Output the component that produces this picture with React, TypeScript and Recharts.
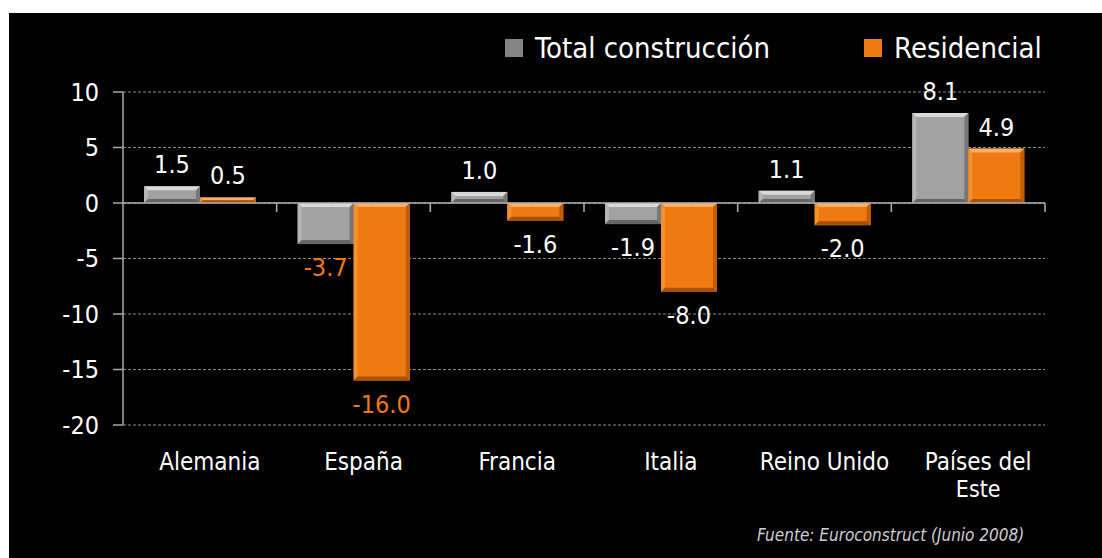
import {
  BarChart,
  Bar,
  XAxis,
  YAxis,
  CartesianGrid,
  ReferenceLine,
  Legend,
  LabelList,
} from "recharts";

const categories = [
  "Alemania",
  "España",
  "Francia",
  "Italia",
  "Reino Unido",
  "Países del Este",
];
const totalConstruccion = [1.5, -3.7, 1.0, -1.9, 1.1, 8.1];
const residencial = [0.5, -16.0, -1.6, -8.0, -2.0, 4.9];
const yTicks = [-20, -15, -10, -5, 0, 5, 10];
const seriesNames = ["Total construcción", "Residencial"];
const sourceNote = "Fuente: Euroconstruct (Junio 2008)";

const data = categories.map((name, i) => ({
  name,
  total: totalConstruccion[i],
  residencial: residencial[i],
}));

const FONT = "'DejaVu Sans Condensed', 'DejaVu Sans', sans-serif";
const ORANGE = "#ef7a12";
const GRAY = "#a2a2a2";
const highlighted = "España";

type Bevel = { base: string; top: string; left: string; right: string; bottom: string };

const grayBevel: Bevel = {
  base: GRAY,
  top: "#d9d9d9",
  left: "#b5b5b5",
  right: "#777777",
  bottom: "#666666",
};
const orangeBevel: Bevel = {
  base: ORANGE,
  top: "#f9b067",
  left: "#f4902f",
  right: "#c05e08",
  bottom: "#a55106",
};

const makeBevelBar = (c: Bevel) => (props: any) => {
  const { x, y, width, height } = props;
  if (x == null || y == null || !width || !height) return <g />;
  const top = Math.min(y, y + height);
  const h = Math.abs(height);
  const w = width;
  const b = Math.min(4, h / 2, w / 2);
  const pts = (arr: number[][]) => arr.map((p) => p.join(",")).join(" ");
  return (
    <g>
      <rect x={x} y={top} width={w} height={h} fill={c.base} />
      <polygon
        points={pts([[x, top], [x + w, top], [x + w - b, top + b], [x + b, top + b]])}
        fill={c.top}
      />
      <polygon
        points={pts([[x, top], [x + b, top + b], [x + b, top + h - b], [x, top + h]])}
        fill={c.left}
      />
      <polygon
        points={pts([[x + w, top], [x + w, top + h], [x + w - b, top + h - b], [x + w - b, top + b]])}
        fill={c.right}
      />
      <polygon
        points={pts([[x, top + h], [x + w, top + h], [x + w - b, top + h - b], [x + b, top + h - b]])}
        fill={c.bottom}
      />
    </g>
  );
};

const valueLabel = (props: any) => {
  const vb = props.viewBox ?? props;
  const x = vb.x ?? props.x;
  const y = vb.y ?? props.y;
  const width = vb.width ?? props.width;
  const height = vb.height ?? props.height;
  const value = Number(props.value);
  if (x == null || y == null) return null;
  const top = Math.min(y, y + height);
  const bottom = Math.max(y, y + height);
  const cat = categories[props.index];
  const color = cat === highlighted ? ORANGE : "#ffffff";
  const ty = value >= 0 ? top - 13 : bottom + 32;
  return (
    <text
      x={x + width / 2}
      y={ty}
      textAnchor="middle"
      fill={color}
      fontSize={25}
      fontFamily={FONT}
    >
      {value.toFixed(1)}
    </text>
  );
};

const CategoryTick = (props: any) => {
  const { x, y, payload } = props;
  const label: string = payload.value;
  let lines = [label];
  if (label.length > 12) {
    const cut = label.lastIndexOf(" ");
    lines = [label.slice(0, cut), label.slice(cut + 1)];
  }
  const cx = x + 10;
  return (
    <g>
      {lines.map((l, i) => (
        <text
          key={i}
          x={cx}
          y={y + 45 + i * 27}
          textAnchor="middle"
          fill="#ffffff"
          fontSize={i === 0 ? 24 : 23}
          fontFamily={FONT}
        >
          {l}
        </text>
      ))}
    </g>
  );
};

const ZeroLine = (props: any) => {
  const { x1, y1, x2 } = props;
  const step = (x2 - x1) / categories.length;
  return (
    <g>
      <line x1={x1} y1={y1} x2={x2} y2={y1} stroke="#b0b0b0" strokeWidth={1.5} />
      {categories.map((_, i) => (
        <line
          key={i}
          x1={x1 + (i + 1) * step}
          y1={y1}
          x2={x1 + (i + 1) * step}
          y2={y1 + 9}
          stroke="#b0b0b0"
          strokeWidth={1.5}
        />
      ))}
    </g>
  );
};

const LegendContent = () => (
  <div
    style={{
      display: "flex",
      alignItems: "center",
      fontFamily: FONT,
      fontSize: 29,
      color: "#ffffff",
      lineHeight: "30px",
    }}
  >
    {seriesNames.map((name, i) => (
      <div
        key={name}
        style={{ display: "flex", alignItems: "center", marginRight: i === 0 ? 94 : 0 }}
      >
        <span
          style={{
            display: "inline-block",
            width: 18,
            height: 18,
            background: i === 0 ? "#858585" : ORANGE,
            marginRight: 12,
          }}
        />
        <span>{name}</span>
      </div>
    ))}
  </div>
);

export default function App() {
  return (
    <div
      style={{
        position: "absolute",
        left: 9,
        top: 13,
        width: 1093,
        height: 545,
        background: "#000000",
      }}
    >
      <BarChart
        width={1093}
        height={545}
        data={data}
        margin={{ top: 79, right: 57, bottom: 73, left: 54 }}
        barGap={0}
        barSize={56}
      >
        <CartesianGrid
          vertical={false}
          stroke="#8c8c8c"
          strokeDasharray="3 2"
        />
        <XAxis
          dataKey="name"
          axisLine={false}
          tickLine={false}
          tickSize={0}
          tickMargin={0}
          height={60}
          interval={0}
          tick={<CategoryTick />}
        />
        <YAxis
          width={60}
          domain={[-20, 10]}
          ticks={yTicks}
          interval={0}
          axisLine={{ stroke: "#a8a8a8", strokeWidth: 1.5 }}
          tickLine={{ stroke: "#a8a8a8", strokeWidth: 1.5 }}
          tickSize={10}
          tickMargin={14}
          tick={{ fill: "#ffffff", fontSize: 25, fontFamily: FONT }}
        />
        <Legend
          layout="horizontal"
          verticalAlign="middle"
          align="center"
          content={<LegendContent />}
          wrapperStyle={{ top: 20, left: 496, width: 600, height: 30 }}
        />
        <Bar
          dataKey="total"
          name={seriesNames[0]}
          fill="#858585"
          shape={makeBevelBar(grayBevel)}
          isAnimationActive={false}
        >
          <LabelList dataKey="total" content={valueLabel} />
        </Bar>
        <Bar
          dataKey="residencial"
          name={seriesNames[1]}
          fill={ORANGE}
          shape={makeBevelBar(orangeBevel)}
          isAnimationActive={false}
        >
          <LabelList dataKey="residencial" content={valueLabel} />
        </Bar>
        <ReferenceLine y={0} shape={ZeroLine} />
      </BarChart>
      <div
        style={{
          position: "absolute",
          left: 748,
          top: 512,
          fontFamily: FONT,
          fontStyle: "italic",
          fontSize: 17,
          lineHeight: "20px",
          color: "#cfcfcf",
          whiteSpace: "nowrap",
        }}
      >
        {sourceNote}
      </div>
    </div>
  );
}
